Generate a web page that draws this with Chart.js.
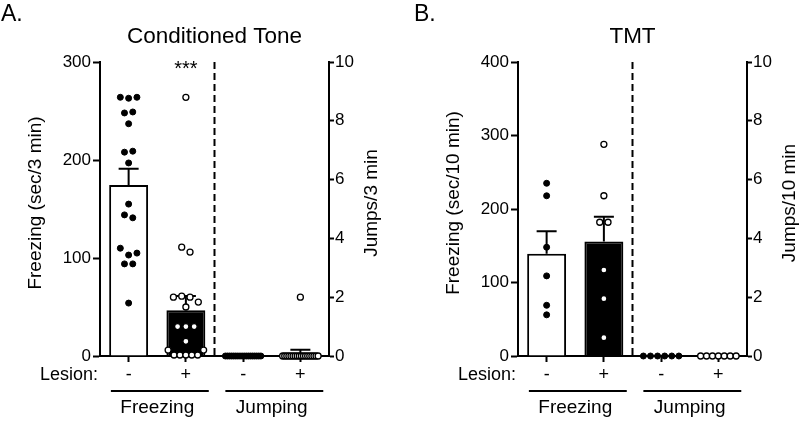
<!DOCTYPE html>
<html>
<head>
<meta charset="utf-8">
<script src="https://cdn.jsdelivr.net/npm/chart.js@4.4.1/dist/chart.umd.min.js"></script>
<style>
  html, body { margin: 0; padding: 0; background: #fff; }
  #wrap { position: relative; width: 800px; height: 421px; }
  .panel { position: absolute; top: 0; width: 400px; height: 421px; }
</style>
</head>
<body>
<div id="wrap">
  <div class="panel" style="left:0"><canvas id="chartA" width="400" height="421"></canvas></div>
  <div class="panel" style="left:400px"><canvas id="chartB" width="400" height="421"></canvas></div>
</div>
<script>
// categories under the bars
var lesion = ['-', '+', '-', '+'];
var behaviours = ['Freezing', 'Jumping'];

// A. Conditioned Tone - one value per animal
var toneFreezeSham = [264, 263, 264, 248, 249, 237, 208, 209, 197, 155, 144, 141, 110, 103, 105, 94, 94, 54];
var toneFreezeLesion = [264, 111, 106, 60, 61, 60, 55, 50, 30, 30, 30, 15, 6, 1, 1, 1, 1, 1, 6];
var toneJumpSham = [0, 0, 0, 0, 0, 0, 0, 0, 0, 0, 0, 0, 0, 0, 0, 0, 0, 0];
var toneJumpLesion = [2, 0, 0, 0, 0, 0, 0, 0, 0, 0, 0, 0, 0, 0, 0, 0, 0, 0, 0];

// B. TMT
var tmtFreezeSham = [235, 218, 148, 109, 69, 56];
var tmtFreezeLesion = [288, 218, 182, 182, 117, 78, 25];
var tmtJumpSham = [0, 0, 0, 0, 0, 0];
var tmtJumpLesion = [0, 0, 0, 0, 0, 0, 0];

// axis ticks
var toneFreezeTicks = [0, 100, 200, 300];
var tmtFreezeTicks = [0, 100, 200, 300, 400];
var jumpTicks = [0, 2, 4, 6, 8, 10];

Chart.defaults.font.family = "'Liberation Sans', Arial, sans-serif";
Chart.defaults.color = '#000';

function mean(a) {
    return a.reduce(function (s, v) { return s + v; }, 0) / a.length;
}

function sem(a) {
    var m = mean(a);
    var ss = a.reduce(function (s, v) { return s + (v - m) * (v - m); }, 0);
    return Math.sqrt(ss / (a.length - 1)) / Math.sqrt(a.length);
}

// prism-like scatter: values close together share a row, rows are centred
function swarm(values, center, tol) {
    var step = 0.145, maxSpan = 0.62;
    var pts = [], row = [];
    function flush() {
        var n = row.length;
        var gap = n > 1 ? Math.min(step, maxSpan / (n - 1)) : 0;
        row.forEach(function (v, k) {
            pts.push({ x: center + (k - (n - 1) / 2) * gap, y: v });
        });
        row = [];
    }
    values.forEach(function (v) {
        if (row.length && Math.abs(v - row[0]) > tol) flush();
        row.push(v);
    });
    flush();
    return pts;
}

function decor(cfg) {
    return {
        id: 'decor',
        beforeDatasetsDraw: function (chart) {
            var ctx = chart.ctx, a = chart.chartArea, x = chart.scales.x;
            // dashed divider between freezing and jumping
            var xd = (x.getPixelForValue(1) + x.getPixelForValue(2)) / 2;
            ctx.save();
            ctx.strokeStyle = '#000';
            ctx.lineWidth = 2;
            ctx.setLineDash([7, 4]);
            ctx.beginPath();
            ctx.moveTo(xd, a.top);
            ctx.lineTo(xd, a.bottom);
            ctx.stroke();
            ctx.setLineDash([]);
            // mean + SEM
            chart.data.datasets.forEach(function (ds) {
                if (!ds.errors) return;
                var ys = chart.scales[ds.yAxisID];
                ds.data.forEach(function (m, i) {
                    if (m == null || !ds.errors[i]) return;
                    var px = x.getPixelForValue(i);
                    var y0 = ys.getPixelForValue(m);
                    var y1 = ys.getPixelForValue(m + ds.errors[i]);
                    ctx.beginPath();
                    ctx.moveTo(px, y0);
                    ctx.lineTo(px, y1);
                    ctx.moveTo(px - 10, y1);
                    ctx.lineTo(px + 10, y1);
                    ctx.stroke();
                });
            });
            ctx.restore();
        },
        afterDraw: function (chart) {
            var ctx = chart.ctx, a = chart.chartArea, x = chart.scales.x;
            var font = "'Liberation Sans', Arial, sans-serif";
            var midY = (a.top + a.bottom) / 2 - 6;
            ctx.save();
            ctx.fillStyle = '#000';
            ctx.strokeStyle = '#000';

            ctx.font = '23px ' + font;
            ctx.textAlign = 'left';
            ctx.fillText(cfg.letter, cfg.letterX, 21);

            ctx.font = '22.5px ' + font;
            ctx.textAlign = 'center';
            ctx.fillText(cfg.title, (a.left + a.right) / 2, 43);

            if (cfg.stars) {
                ctx.font = '20px ' + font;
                ctx.fillText(cfg.stars, x.getPixelForValue(1), 75);
            }

            // rotated axis titles
            ctx.font = '19px ' + font;
            ctx.save();
            ctx.translate(a.left - 59, midY);
            ctx.rotate(-Math.PI / 2);
            ctx.fillText(cfg.freezeTitle, 0, 0);
            ctx.restore();
            ctx.save();
            ctx.translate(a.right + 48, midY);
            ctx.rotate(-Math.PI / 2);
            ctx.fillText(cfg.jumpTitle, 0, 0);
            ctx.restore();

            ctx.font = '18px ' + font;
            ctx.textAlign = 'right';
            ctx.fillText('Lesion:', a.left - 2, 380);

            // group lines and labels
            var w = x.getPixelForValue(1) - x.getPixelForValue(0);
            ctx.lineWidth = 2;
            ctx.font = '19px ' + font;
            ctx.textAlign = 'center';
            behaviours.forEach(function (b, g) {
                var x0 = x.getPixelForValue(g * 2), x1 = x.getPixelForValue(g * 2 + 1);
                ctx.beginPath();
                ctx.moveTo(x0 - 0.31 * w, 391);
                ctx.lineTo(x1 + 0.4 * w, 391);
                ctx.stroke();
                ctx.fillText(b, (x0 + x1) / 2, 413);
            });
            ctx.restore();
        }
    };
}

function makeChart(id, cfg) {
    var f = cfg.freeze, j = cfg.jump;
    var fTicks = cfg.freezeTicks;
    var fMax = fTicks[fTicks.length - 1], jMax = jumpTicks[jumpTicks.length - 1];
    var fTol = fMax * 0.0275, jTol = jMax * 0.0275;

    var barCommon = {
        type: 'bar',
        xAxisID: 'x',
        backgroundColor: ['#fff', '#000', '#fff', '#000'],
        borderColor: '#000',
        borderWidth: 2,
        grouped: false,
        barPercentage: 0.68,
        categoryPercentage: 1,
        order: 2
    };
    function dots(values, idx, axis, hollow, tol) {
        return {
            type: 'scatter',
            data: swarm(values, idx, tol),
            xAxisID: 'xs',
            yAxisID: axis,
            pointRadius: 3,
            pointBackgroundColor: hollow ? '#fff' : '#000',
            pointBorderColor: '#000',
            pointBorderWidth: hollow ? 1.3 : 1,
            clip: false,
            order: 0
        };
    }

    var datasets = [
        Object.assign({}, barCommon, {
            data: [mean(f[0]), mean(f[1]), null, null],
            errors: [sem(f[0]), sem(f[1]), null, null],
            yAxisID: 'y'
        }),
        Object.assign({}, barCommon, {
            data: [null, null, mean(j[0]), mean(j[1])],
            errors: [null, null, sem(j[0]), sem(j[1])],
            yAxisID: 'y2'
        }),
        dots(f[0], 0, 'y', false, fTol),
        dots(f[1], 1, 'y', true, fTol),
        dots(j[0], 2, 'y2', false, jTol),
        dots(j[1], 3, 'y2', true, jTol)
    ];

    var tickGrid = function (len) {
        return { display: true, drawOnChartArea: false, drawTicks: true, tickLength: len, tickWidth: 2, tickColor: '#000' };
    };
    var border = { display: true, color: '#000', width: 2 };

    return new Chart(document.getElementById(id), {
        type: 'bar',
        data: { labels: lesion, datasets: datasets },
        options: {
            responsive: false,
            animation: false,
            events: [],
            layout: { padding: { top: 62, left: 0, right: 0, bottom: 0 } },
            plugins: { legend: { display: false }, tooltip: { enabled: false } },
            scales: {
                x: {
                    type: 'category',
                    offset: true,
                    grid: Object.assign(tickGrid(6), { offset: false }),
                    border: border,
                    ticks: { font: { size: 18 }, padding: 2 },
                    afterFit: function (s) { s.height = 65; }
                },
                xs: { type: 'linear', display: false, offset: false, min: -0.5, max: 3.5 },
                y: {
                    position: 'left',
                    min: fTicks[0],
                    max: fMax,
                    ticks: { stepSize: fTicks[1] - fTicks[0], font: { size: 17 }, padding: 2 },
                    grid: tickGrid(7),
                    border: border,
                    afterFit: function (s) { s.width = cfg.leftWidth; }
                },
                y2: {
                    position: 'right',
                    min: jumpTicks[0],
                    max: jMax,
                    ticks: { stepSize: jumpTicks[1] - jumpTicks[0], font: { size: 17 }, padding: 1 },
                    grid: tickGrid(5),
                    border: border,
                    afterFit: function (s) { s.width = cfg.rightWidth; }
                }
            }
        },
        plugins: [decor(cfg)]
    });
}

makeChart('chartA', {
    letter: 'A.', letterX: 1, title: 'Conditioned Tone', stars: '***',
    freezeTitle: 'Freezing (sec/3 min)', jumpTitle: 'Jumps/3 min',
    freeze: [toneFreezeSham, toneFreezeLesion], jump: [toneJumpSham, toneJumpLesion],
    freezeTicks: toneFreezeTicks, leftWidth: 100, rightWidth: 71
});

makeChart('chartB', {
    letter: 'B.', letterX: 14, title: 'TMT', stars: '',
    freezeTitle: 'Freezing (sec/10 min)', jumpTitle: 'Jumps/10 min',
    freeze: [tmtFreezeSham, tmtFreezeLesion], jump: [tmtJumpSham, tmtJumpLesion],
    freezeTicks: tmtFreezeTicks, leftWidth: 118, rightWidth: 53
});
</script>
</body>
</html>
